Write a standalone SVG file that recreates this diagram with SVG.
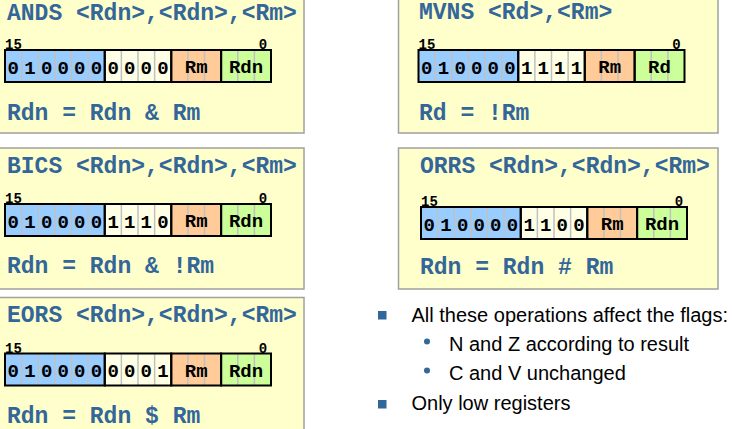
<svg xmlns="http://www.w3.org/2000/svg" xmlns:xlink="http://www.w3.org/1999/xlink" width="733" height="429" viewBox="0 0 733 429">
<style>
.panel{fill:#FFFFCC;stroke:#A0A0A0;stroke-width:1.5}
.title{font-family:"Liberation Mono","Courier New",monospace;font-weight:bold;font-size:23px;fill:#336699}
.lbl{font-family:"Liberation Mono","Courier New",monospace;font-weight:bold;font-size:14px;fill:#000}
.bit{font-family:"Liberation Mono","Courier New",monospace;font-weight:bold;font-size:19px;fill:#000;text-anchor:middle}
.reg{font-family:"Liberation Mono","Courier New",monospace;font-weight:bold;font-size:19px;fill:#000;text-anchor:middle}
.div{stroke:#C0C0C0;stroke-width:1.5}
.box{fill:none;stroke:#000;stroke-width:2}
.txt{font-family:"Liberation Sans",Arial,sans-serif;font-size:20px;fill:#000}
.bul{fill:#336699}
</style>
<defs>
<g id="field">
<rect x="0" y="0" width="99.75" height="32" fill="#99CCFF"/>
<rect x="99.75" y="0" width="66.5" height="32" fill="#FFFFE6"/>
<rect x="166.25" y="0" width="49.875" height="32" fill="#FFCC99"/>
<rect x="216.125" y="0" width="49.875" height="32" fill="#CCFF99"/>
<g class="div">
<line x1="16.625" y1="0" x2="16.625" y2="32"/>
<line x1="33.25" y1="0" x2="33.25" y2="32"/>
<line x1="49.875" y1="0" x2="49.875" y2="32"/>
<line x1="66.5" y1="0" x2="66.5" y2="32"/>
<line x1="83.125" y1="0" x2="83.125" y2="32"/>
<line x1="116.375" y1="0" x2="116.375" y2="32"/>
<line x1="133" y1="0" x2="133" y2="32"/>
<line x1="149.625" y1="0" x2="149.625" y2="32"/>
<line x1="182.875" y1="0" x2="182.875" y2="32"/>
<line x1="199.5" y1="0" x2="199.5" y2="32"/>
<line x1="232.75" y1="0" x2="232.75" y2="32"/>
<line x1="249.375" y1="0" x2="249.375" y2="32"/>
</g>
<rect class="box" x="0" y="0" width="99.75" height="32"/>
<rect class="box" x="99.75" y="0" width="66.5" height="32"/>
<rect class="box" x="166.25" y="0" width="49.875" height="32"/>
<rect class="box" x="216.125" y="0" width="49.875" height="32"/>
<text class="lbl" x="0" y="-1">15</text>
<text class="lbl" x="258" y="-1" text-anchor="middle">0</text>
<g class="bit">
<text x="8.3" y="23.5">0</text><text x="24.9" y="23.5">1</text><text x="41.6" y="23.5">0</text><text x="58.2" y="23.5">0</text><text x="74.8" y="23.5">0</text><text x="91.4" y="23.5">0</text>
</g>
<text class="reg" x="191.2" y="23">Rm</text>
</g>
</defs>

<g id="ands">
<rect class="panel" x="-5" y="-5" width="309" height="138"/>
<text class="title" x="7" y="20">ANDS &lt;Rdn&gt;,&lt;Rdn&gt;,&lt;Rm&gt;</text>
<g transform="translate(5,50)">
<use xlink:href="#field"/>
<g class="bit"><text x="108.1" y="23.5">0</text><text x="124.7" y="23.5">0</text><text x="141.3" y="23.5">0</text><text x="157.9" y="23.5">0</text></g>
<text class="reg" x="241" y="23">Rdn</text>
</g>
<text class="title" x="7" y="120">Rdn = Rdn &amp; Rm</text>
</g>

<g id="bics">
<rect class="panel" x="-5" y="148" width="309" height="141"/>
<text class="title" x="7" y="173">BICS &lt;Rdn&gt;,&lt;Rdn&gt;,&lt;Rm&gt;</text>
<g transform="translate(5,204)">
<use xlink:href="#field"/>
<g class="bit"><text x="108.1" y="23.5">1</text><text x="124.7" y="23.5">1</text><text x="141.3" y="23.5">1</text><text x="157.9" y="23.5">0</text></g>
<text class="reg" x="241" y="23">Rdn</text>
</g>
<text class="title" x="7" y="273">Rdn = Rdn &amp; !Rm</text>
</g>

<g id="eors">
<rect class="panel" x="-5" y="297.5" width="309" height="140"/>
<text class="title" x="7" y="322">EORS &lt;Rdn&gt;,&lt;Rdn&gt;,&lt;Rm&gt;</text>
<g transform="translate(5,353.5)">
<use xlink:href="#field"/>
<g class="bit"><text x="108.1" y="23.5">0</text><text x="124.7" y="23.5">0</text><text x="141.3" y="23.5">0</text><text x="157.9" y="23.5">1</text></g>
<text class="reg" x="241" y="23">Rdn</text>
</g>
<text class="title" x="7" y="423">Rdn = Rdn $ Rm</text>
</g>

<g id="mvns">
<rect class="panel" x="398.5" y="-5" width="319.5" height="138"/>
<text class="title" x="419" y="19">MVNS &lt;Rd&gt;,&lt;Rm&gt;</text>
<g transform="translate(418.5,50)">
<use xlink:href="#field"/>
<g class="bit"><text x="108.1" y="23.5">1</text><text x="124.7" y="23.5">1</text><text x="141.3" y="23.5">1</text><text x="157.9" y="23.5">1</text></g>
<text class="reg" x="241" y="23">Rd</text>
</g>
<text class="title" x="419" y="120">Rd = !Rm</text>
</g>

<g id="orrs">
<rect class="panel" x="398.5" y="148" width="319.5" height="141"/>
<text class="title" x="420" y="173">ORRS &lt;Rdn&gt;,&lt;Rdn&gt;,&lt;Rm&gt;</text>
<g transform="translate(421,207)">
<use xlink:href="#field"/>
<g class="bit"><text x="108.1" y="23.5">1</text><text x="124.7" y="23.5">1</text><text x="141.3" y="23.5">0</text><text x="157.9" y="23.5">0</text></g>
<text class="reg" x="241" y="23">Rdn</text>
</g>
<text class="title" x="420" y="274">Rdn = Rdn # Rm</text>
</g>

<g id="notes">
<rect class="bul" x="378" y="311" width="8.5" height="8.5"/>
<text class="txt" x="411.5" y="321.5">All these operations affect the flags:</text>
<circle class="bul" cx="427" cy="341.5" r="3"/>
<text class="txt" x="449" y="351">N and Z according to result</text>
<circle class="bul" cx="427" cy="370.5" r="3"/>
<text class="txt" x="449" y="380">C and V unchanged</text>
<rect class="bul" x="378" y="400" width="8.5" height="8.5"/>
<text class="txt" x="411.5" y="410">Only low registers</text>
</g>
</svg>
